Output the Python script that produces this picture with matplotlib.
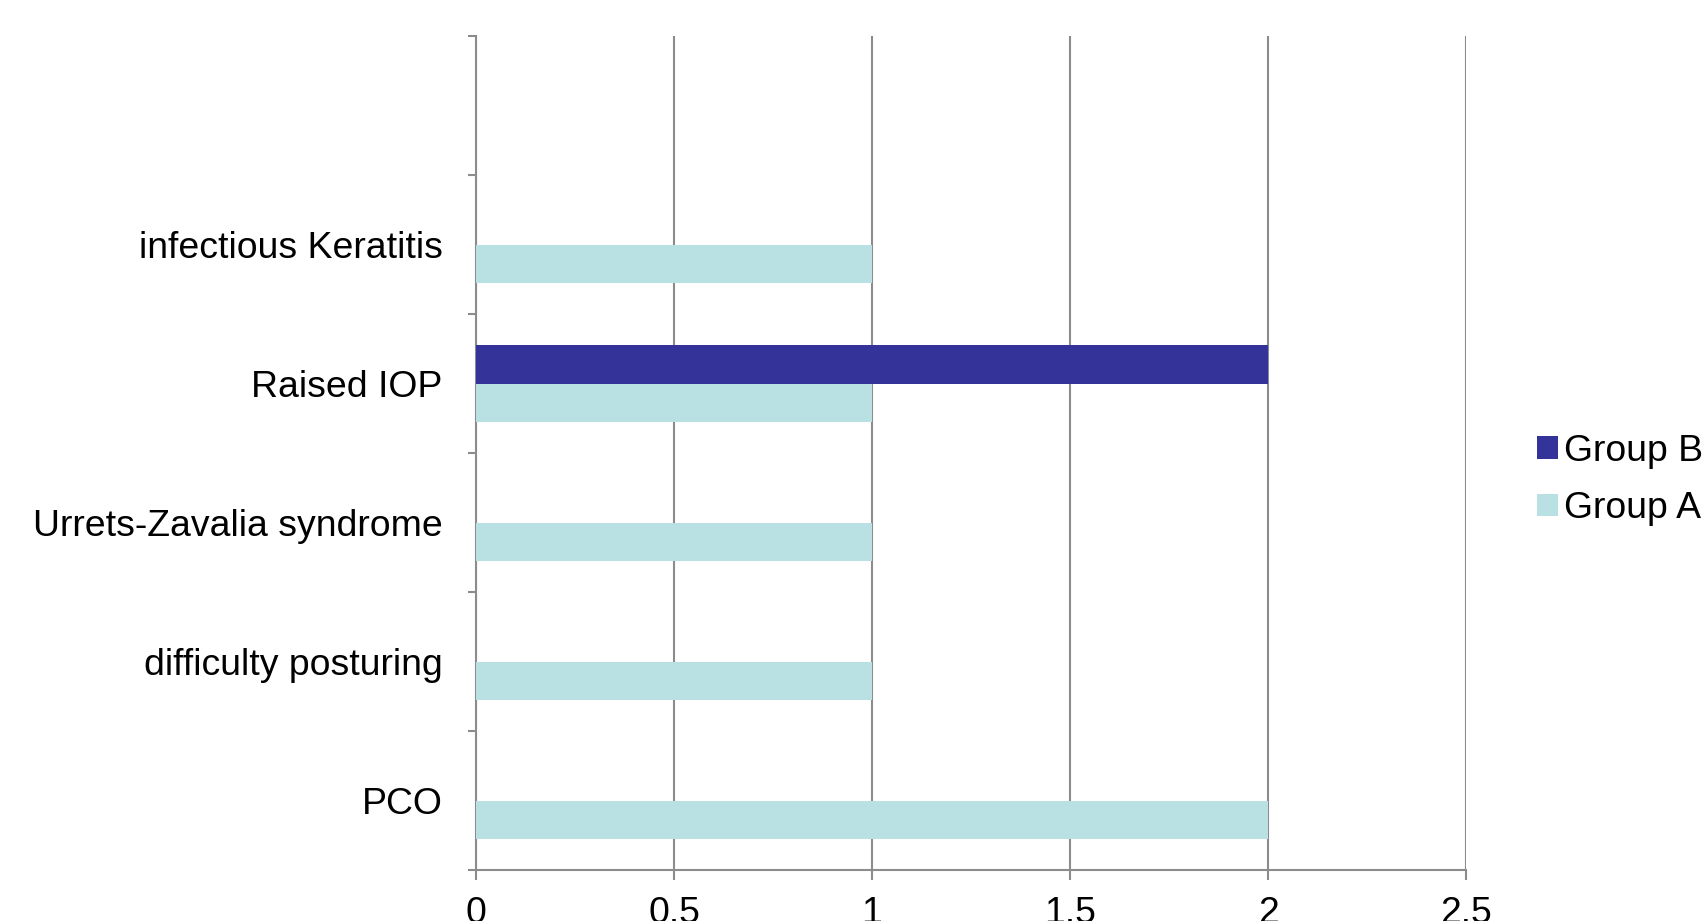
import numpy as np
import matplotlib.pyplot as plt

plt.rcParams["font.family"] = ["Liberation Sans", "DejaVu Sans"]

# complications per group (bottom to top)
categories = ["PCO", "difficulty posturing", "Urrets-Zavalia syndrome",
              "Raised IOP", "infectious Keratitis", ""]
group_a = [2, 1, 1, 1, 1, 0]
group_b = [0, 0, 0, 2, 0, 0]
xticks = [0, 0.5, 1, 1.5, 2, 2.5]
xtick_labels = ["0", "0.5", "1", "1.5", "2", "2.5"]

color_a = "#b9e0e3"
color_b = "#333399"
grey = "#8c8c8c"
fs = 26.9

fig = plt.figure(figsize=(17.05, 9.21), dpi=100)
ax = fig.add_axes([476 / 1705, 1 - 870 / 921, (1466 - 476) / 1705, (870 - 36) / 921])

y = np.arange(len(categories))
h = 0.28
ax.barh(y - h / 2, group_a, height=h, color=color_a, label="Group A", zorder=3)
ax.barh(y + h / 2, group_b, height=h, color=color_b, label="Group B", zorder=3)

ax.set_xlim(0, 2.5)
ax.set_ylim(-0.5, len(categories) - 0.5)
ax.set_xticks(xticks)
ax.set_xticklabels(xtick_labels)
ax.set_yticks(y)
ax.set_yticklabels(categories)
ax.set_yticks(np.arange(-0.5, len(categories)), minor=True)

ax.grid(axis="x", color=grey, linewidth=1.5, zorder=0)
for side in ["top", "right"]:
    ax.spines[side].set_visible(False)
for side in ["left", "bottom"]:
    ax.spines[side].set_color(grey)
    ax.spines[side].set_linewidth(1.5)

ax.tick_params(axis="y", which="major", length=0, pad=24, labelsize=fs)
ax.tick_params(axis="y", which="minor", length=6, width=1.5, color=grey)
ax.tick_params(axis="x", length=7, width=1.5, color=grey, pad=12, labelsize=fs)

handles, labels = ax.get_legend_handles_labels()
fig.legend(handles[::-1], labels[::-1], loc="center left",
           bbox_to_anchor=(1537 / 1705, 1 - 480 / 921), frameon=False,
           fontsize=fs, handlelength=0.55, handleheight=0.55,
           handletextpad=0.18, labelspacing=0.6, borderpad=0, borderaxespad=0)

fig.savefig("out.png", dpi=100)
